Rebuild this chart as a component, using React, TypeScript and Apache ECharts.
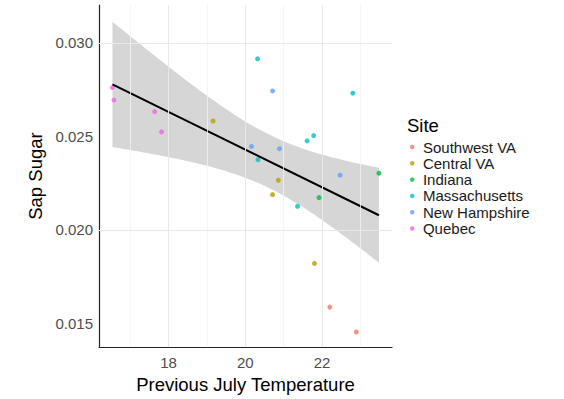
import React, { useEffect, useRef } from "react";
import * as echarts from "echarts";

// ---- data ----
const sites = ["Southwest VA", "Central VA", "Indiana", "Massachusetts", "New Hampshire", "Quebec"];
const siteColors = ["#F8766D", "#B79F00", "#00BA38", "#00BFC4", "#619CFF", "#F564E3"];

const southwestVA = [[22.20, 0.01586], [22.89, 0.01453]];
const centralVA = [[19.16, 0.02582], [20.86, 0.02265], [20.71, 0.02188], [21.80, 0.01820]];
const indiana = [[23.48, 0.02303], [21.92, 0.02172]];
const massachusetts = [[20.32, 0.02915], [22.80, 0.02731], [20.33, 0.02375], [21.61, 0.02476], [21.78, 0.02504], [21.36, 0.02126]];
const newHampshire = [[20.71, 0.02743], [20.16, 0.02446], [20.89, 0.02434], [22.47, 0.02292]];
const quebec = [[16.54, 0.02761], [16.58, 0.02694], [17.64, 0.02632], [17.82, 0.02524]];

const siteData = [southwestVA, centralVA, indiana, massachusetts, newHampshire, quebec];

const xMajorTicks = [18, 20, 22];
const xMinorTicks = [17, 19, 21, 23];
const yMajorTicks = [0.015, 0.02, 0.025, 0.03];
const yMinorTicks = [0.0175, 0.0225, 0.0275];

const xRange = [16.19, 23.82];
const yRange = [0.01372, 0.03203];

// ---- linear model (lm with 95% CI, as geom_smooth) ----
function fitModel() {
  const pts = siteData.flat();
  const n = pts.length;
  const xbar = pts.reduce((s, p) => s + p[0], 0) / n;
  const ybar = pts.reduce((s, p) => s + p[1], 0) / n;
  let sxx = 0, sxy = 0;
  pts.forEach((p) => { sxx += (p[0] - xbar) ** 2; sxy += (p[0] - xbar) * (p[1] - ybar); });
  const b = sxy / sxx;
  const a = ybar - b * xbar;
  let sse = 0;
  pts.forEach((p) => { sse += (p[1] - a - b * p[0]) ** 2; });
  const s = Math.sqrt(sse / (n - 2));
  const t = 2.086; // t(0.975, 20)
  const xs = pts.map((p) => p[0]);
  const xmin = Math.min(...xs), xmax = Math.max(...xs);
  const band: number[][] = [];
  const steps = 80;
  for (let i = 0; i <= steps; i++) {
    const x = xmin + (xmax - xmin) * (i / steps);
    const yhat = a + b * x;
    const se = s * Math.sqrt(1 / n + (x - xbar) ** 2 / sxx);
    band.push([x, yhat - t * se, yhat + t * se]);
  }
  const line = [[xmin, a + b * xmin], [xmax, a + b * xmax]];
  return { band, line };
}

const FONT = "Liberation Sans, Arial, sans-serif";

export default function App() {
  const ref = useRef<HTMLDivElement>(null);
  useEffect(() => {
    if (!ref.current) return;
    const chart = echarts.init(ref.current, null, { renderer: "svg" });
    const { band, line } = fitModel();

    const gridMark = (axis: "xAxis" | "yAxis", vals: number[], color: string, width: number) =>
      vals.map((v) => ({ [axis]: v, lineStyle: { color, width, type: "solid" } }));

    const option: any = {
      animation: false,
      backgroundColor: "#ffffff",
      textStyle: { fontFamily: FONT },
      title: {
        text: "Site",
        left: 407,
        top: 116,
        padding: 0,
        textStyle: { fontFamily: FONT, fontSize: 18.5, fontWeight: "normal", color: "#000" },
      },
      legend: {
        data: sites,
        left: 410,
        top: 139,
        orient: "vertical",
        icon: "circle",
        itemWidth: 11.4,
        itemHeight: 4.5,
        itemGap: 0.3,
        padding: 0,
        selectedMode: false,
        textStyle: { fontFamily: FONT, fontSize: 15, color: "#1a1a1a", lineHeight: 16, padding: [0, 0, 0, 0] },
      },
      grid: { left: 99, top: 5, width: 293, height: 345, containLabel: false },
      xAxis: {
        type: "value",
        min: xRange[0],
        max: xRange[1],
        splitNumber: 4,
        name: "Previous July Temperature",
        nameLocation: "middle",
        nameGap: 26,
        nameTextStyle: { fontFamily: FONT, fontSize: 18.5, color: "#000" },
        axisLine: { show: true, onZero: false, lineStyle: { color: "#222", width: 1.2 } },
        axisTick: { show: false },
        splitLine: { show: false },
        axisLabel: {
          showMinLabel: false,
          showMaxLabel: false,
          margin: 8,
          fontFamily: FONT,
          fontSize: 15,
          color: "#4d4d4d",
          formatter: (v: number) => (xMajorTicks.some((t) => Math.abs(t - v) < 1e-6) ? String(v) : ""),
        },
      },
      yAxis: {
        type: "value",
        min: yRange[0],
        max: yRange[1],
        splitNumber: 4,
        name: "Sap Sugar",
        nameLocation: "middle",
        nameGap: 53,
        nameTextStyle: { fontFamily: FONT, fontSize: 18.5, color: "#000" },
        axisLine: { show: true, onZero: false, lineStyle: { color: "#222", width: 1.2 } },
        axisTick: { show: false },
        splitLine: { show: false },
        axisLabel: {
          showMinLabel: false,
          showMaxLabel: false,
          margin: 6,
          fontFamily: FONT,
          fontSize: 15,
          color: "#4d4d4d",
          formatter: (v: number) => {
            const t = yMajorTicks.find((t) => Math.abs(t - v) < 1e-9);
            return t === undefined ? "" : t.toFixed(3);
          },
        },
      },
      series: [
        {
          type: "line",
          name: "grid",
          data: [],
          silent: true,
          z: 0,
          markLine: {
            silent: true,
            symbol: ["none", "none"],
            label: { show: false },
            animation: false,
            data: [
              ...gridMark("xAxis", xMinorTicks, "#f3f3f3", 0.8),
              ...gridMark("yAxis", yMinorTicks, "#f3f3f3", 0.8),
              ...gridMark("xAxis", xMajorTicks, "#e8e8e8", 1),
              ...gridMark("yAxis", yMajorTicks, "#e8e8e8", 1),
            ],
          },
        },
        {
          type: "custom",
          name: "band",
          data: band,
          encode: { x: 0, y: [1, 2] },
          silent: true,
          z: 1,
          renderItem: (params: any, api: any) => {
            if (params.dataIndex !== 0) return { type: "group", children: [] };
            const upper = band.map((b) => api.coord([b[0], b[2]]));
            const lower = band.map((b) => api.coord([b[0], b[1]])).reverse();
            return {
              type: "polygon",
              shape: { points: upper.concat(lower) },
              style: { fill: "rgba(153,153,153,0.4)", stroke: "none" },
            };
          },
        },
        ...sites.map((s, i) => ({
          type: "scatter",
          name: s,
          data: siteData[i],
          symbol: "circle",
          symbolSize: 5,
          itemStyle: { color: siteColors[i] },
          z: 2,
        })),
        {
          type: "line",
          name: "fit",
          data: line,
          symbol: "none",
          silent: true,
          lineStyle: { color: "#000", width: 2 },
          z: 3,
        },
      ],
    };
    chart.setOption(option);
    return () => chart.dispose();
  }, []);
  return (
    <div
      ref={ref}
      style={{ position: "fixed", left: 0, top: 0, width: 564, height: 399 }}
    />
  );
}
